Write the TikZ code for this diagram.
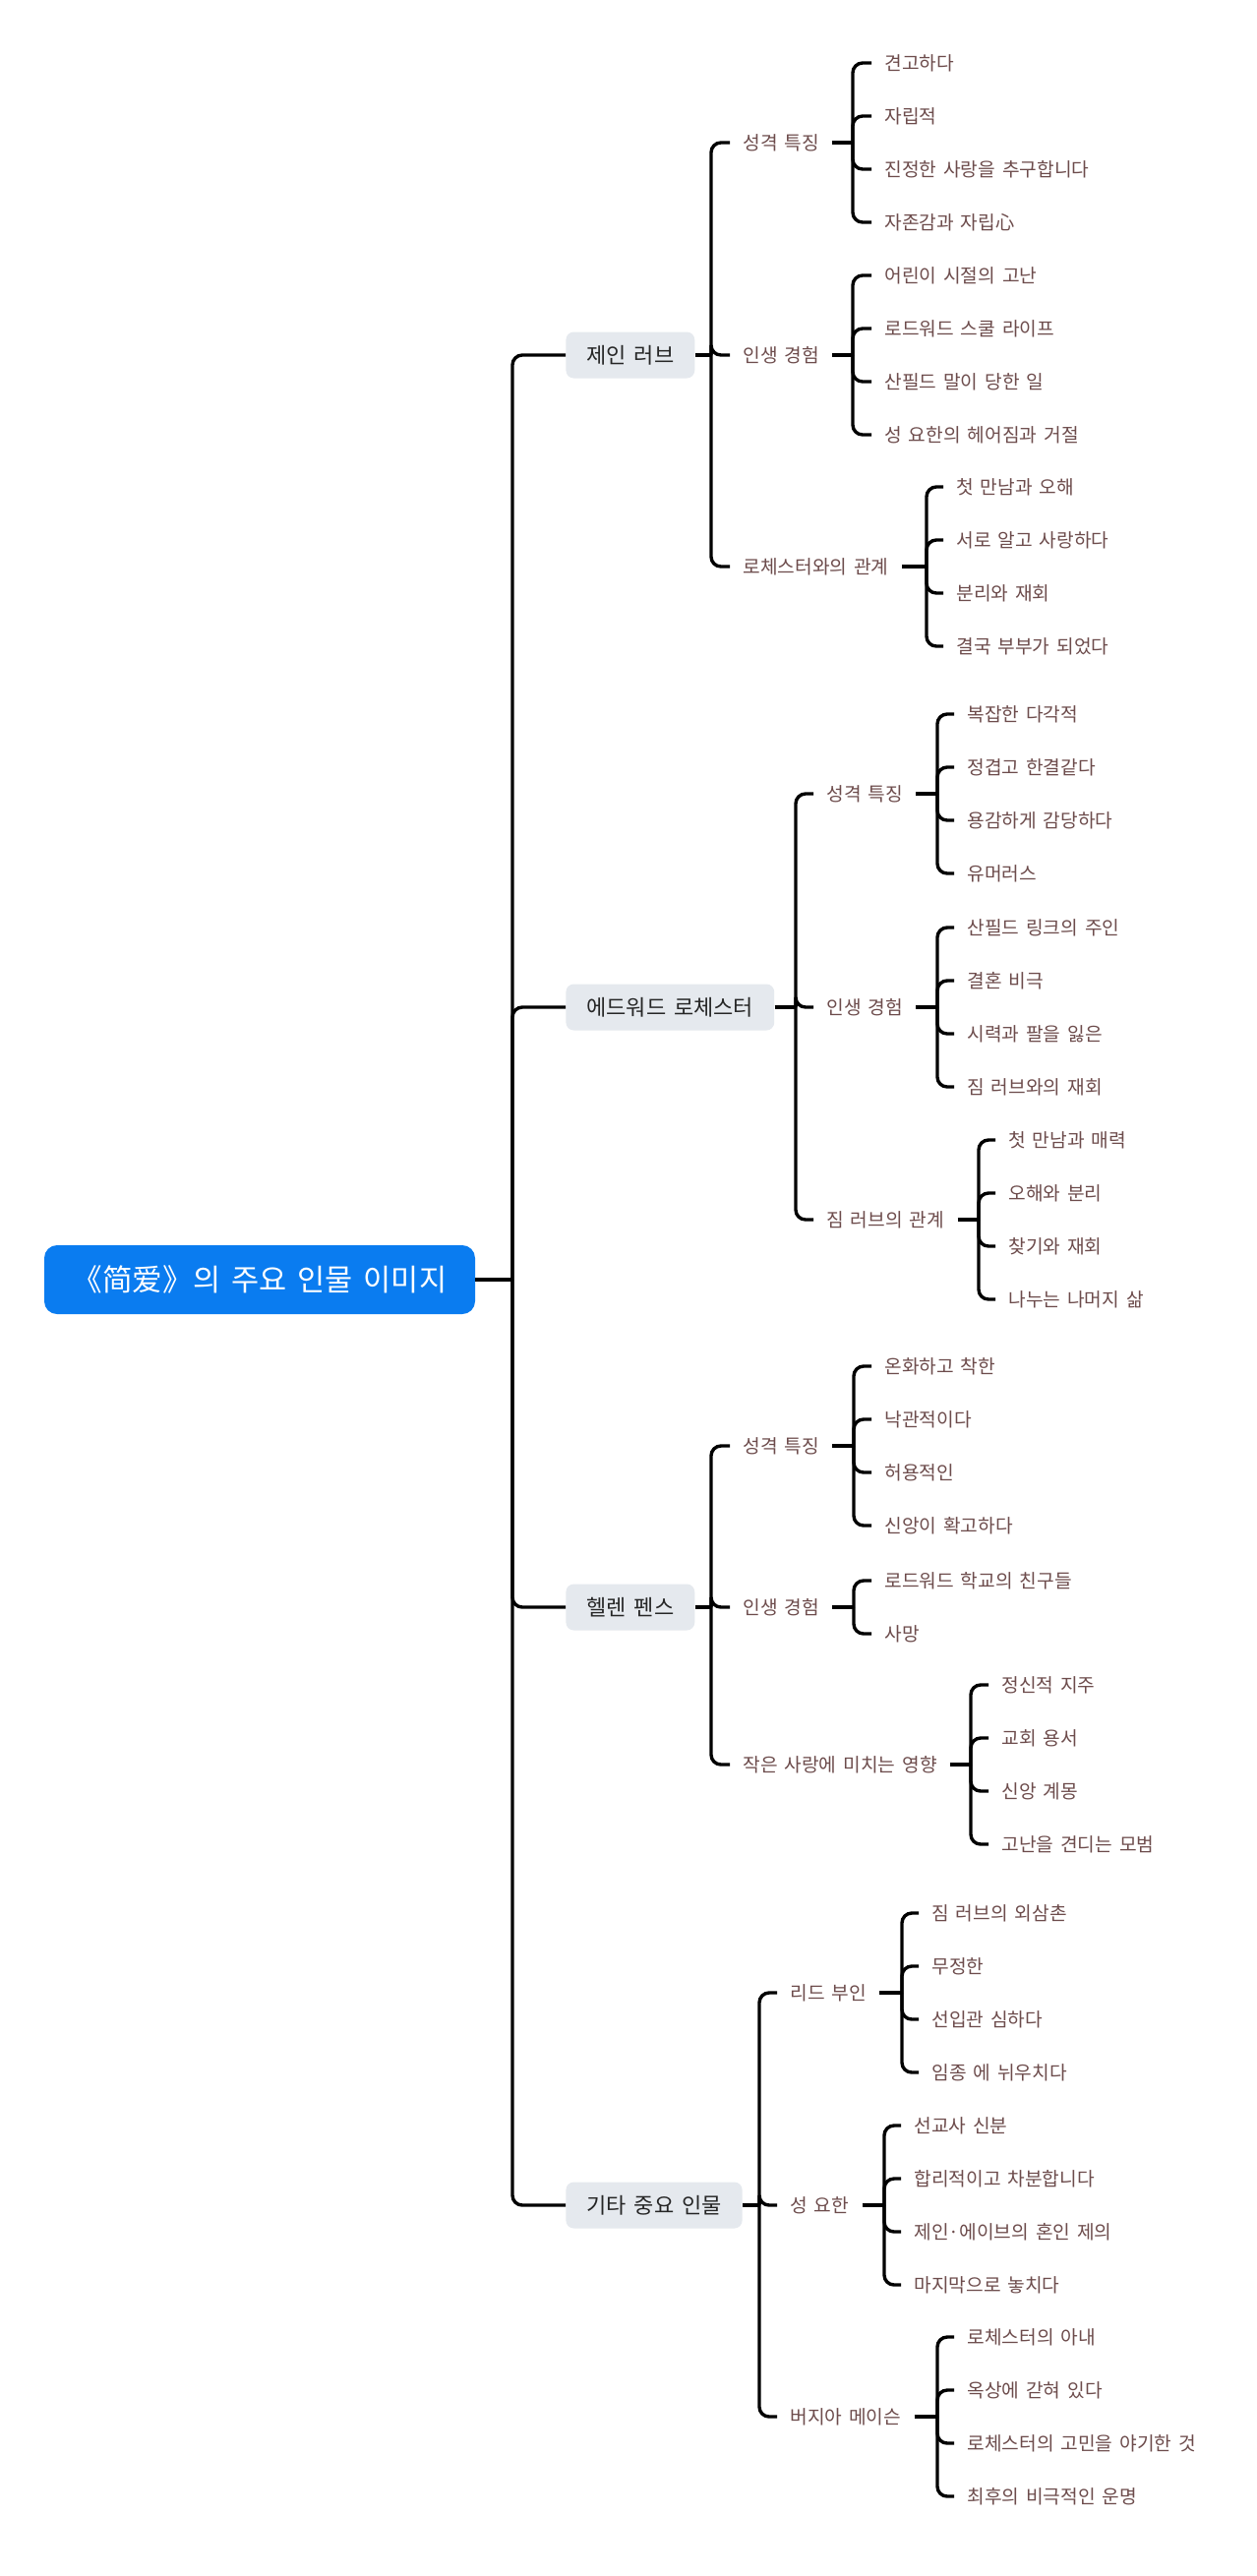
\documentclass[tikz,border=0pt]{standalone}
\usepackage{fontspec}
\setmainfont[WordSpace=1.6]{Noto Sans CJK KR}
\usetikzlibrary{positioning}

\definecolor{rootblue}{HTML}{0A7CF0}
\definecolor{boxgray}{HTML}{E5E9EE}
\definecolor{leafbrown}{HTML}{6D4C4C}

\begin{document}
\begin{tikzpicture}[x=0.5pt, y=-0.5pt,
        root/.style={fill=rootblue, text=white, rounded corners=6.5pt,
            minimum width=219pt, minimum height=35pt,
            font=\fontsize{15.3}{18}\selectfont},
        person/.style={fill=boxgray, text=black!85, rounded corners=4pt,
            minimum height=23.5pt, inner xsep=10.5pt, anchor=west,
            font=\fontsize{11}{13}\selectfont},
        topic/.style={text=leafbrown, anchor=west, inner xsep=6.5pt,
            font=\fontsize{9.6}{11}\selectfont},
        link/.style={draw=black, line width=1.7pt, rounded corners=5pt},
    ]
    \fill[white] (0,0) rectangle (1278,2619);
    \useasboundingbox (0,0) rectangle (1278,2619);

    % centre and characters
    \node[root] (root) at (264,1301) {《简爱》의 주요 인물 이미지};
    \node[person] (jane) at (575,361) {제인 러브};
    \node[person] (roch) at (575,1024) {에드워드 로체스터};
    \node[person] (helen) at (575,1634) {헬렌 펜스};
    \node[person] (other) at (575,2242) {기타 중요 인물};

    % topics
    \node[topic] (jane1) at (742,145) {성격 특징};
    \node[topic] (jane2) at (742,361) {인생 경험};
    \node[topic] (jane3) at (742,576) {로체스터와의 관계};
    \node[topic] (roch1) at (827,807) {성격 특징};
    \node[topic] (roch2) at (827,1024) {인생 경험};
    \node[topic] (roch3) at (827,1240) {짐 러브의 관계};
    \node[topic] (helen1) at (742,1470) {성격 특징};
    \node[topic] (helen2) at (742,1634) {인생 경험};
    \node[topic] (helen3) at (742,1794) {작은 사랑에 미치는 영향};
    \node[topic] (other1) at (790,2026) {리드 부인};
    \node[topic] (other2) at (790,2242) {성 요한};
    \node[topic] (other3) at (790,2457) {버지아 메이슨};

    % leaves
    \foreach \t [count=\i] in {견고하다, 자립적, 진정한 사랑을 추구합니다, 자존감과 자립心}
        \node[topic] (jane1-\i) at (886,{10+54*\i}) {\t};
    \foreach \t [count=\i] in {어린이 시절의 고난, 로드워드 스쿨 라이프, 산필드 말이 당한 일, 성 요한의 헤어짐과 거절}
        \node[topic] (jane2-\i) at (886,{226+54*\i}) {\t};
    \foreach \t [count=\i] in {첫 만남과 오해, 서로 알고 사랑하다, 분리와 재회, 결국 부부가 되었다}
        \node[topic] (jane3-\i) at (959,{441+54*\i}) {\t};
    \foreach \t [count=\i] in {복잡한 다각적, 정겹고 한결같다, 용감하게 감당하다, 유머러스}
        \node[topic] (roch1-\i) at (970,{672+54*\i}) {\t};
    \foreach \t [count=\i] in {산필드 링크의 주인, 결혼 비극, 시력과 팔을 잃은, 짐 러브와의 재회}
        \node[topic] (roch2-\i) at (970,{889+54*\i}) {\t};
    \foreach \t [count=\i] in {첫 만남과 매력, 오해와 분리, 찾기와 재회, 나누는 나머지 삶}
        \node[topic] (roch3-\i) at (1012,{1105+54*\i}) {\t};
    \foreach \t [count=\i] in {온화하고 착한, 낙관적이다, 허용적인, 신앙이 확고하다}
        \node[topic] (helen1-\i) at (886,{1335+54*\i}) {\t};
    \foreach \t [count=\i] in {로드워드 학교의 친구들, 사망}
        \node[topic] (helen2-\i) at (886,{1553+54*\i}) {\t};
    \foreach \t [count=\i] in {정신적 지주, 교회 용서, 신앙 계몽, 고난을 견디는 모범}
        \node[topic] (helen3-\i) at (1005,{1659+54*\i}) {\t};
    \foreach \t [count=\i] in {짐 러브의 외삼촌, 무정한, 선입관 심하다, 임종 에 뉘우치다}
        \node[topic] (other1-\i) at (934,{1891+54*\i}) {\t};
    \foreach \t [count=\i] in {선교사 신분, 합리적이고 차분합니다, 제인·에이브의 혼인 제의, 마지막으로 놓치다}
        \node[topic] (other2-\i) at (916,{2107+54*\i}) {\t};
    \foreach \t [count=\i] in {로체스터의 아내, 옥상에 갇혀 있다, 로체스터의 고민을 야기한 것, 최후의 비극적인 운명}
        \node[topic] (other3-\i) at (970,{2322+54*\i}) {\t};

    % connectors
    \draw[link] (root.east) -- (root.east -| 521,0) coordinate (root-v);
    \foreach \p in {jane,roch,helen,other}
        \draw[link] (root-v) |- (\p.west);
    \foreach \p/\vx in {jane/723, roch/809, helen/723, other/772} {
        \draw[link] (\p.east) -- (\p.east -| \vx,0) coordinate (\p-v);
        \foreach \i in {1,2,3}
            \draw[link] (\p-v) |- (\p\i.west);
    }
    \foreach \g/\vx/\n in {jane1/867/4, jane2/867/4, jane3/942/4,
            roch1/953/4, roch2/953/4, roch3/995/4,
            helen1/868/4, helen2/868/2, helen3/987/4,
            other1/917/4, other2/899/4, other3/953/4} {
        \draw[link] (\g.east) -- (\g.east -| \vx,0) coordinate (\g-v);
        \foreach \i in {1,...,\n}
            \draw[link] (\g-v) |- (\g-\i.west);
    }
\end{tikzpicture}
\end{document}
